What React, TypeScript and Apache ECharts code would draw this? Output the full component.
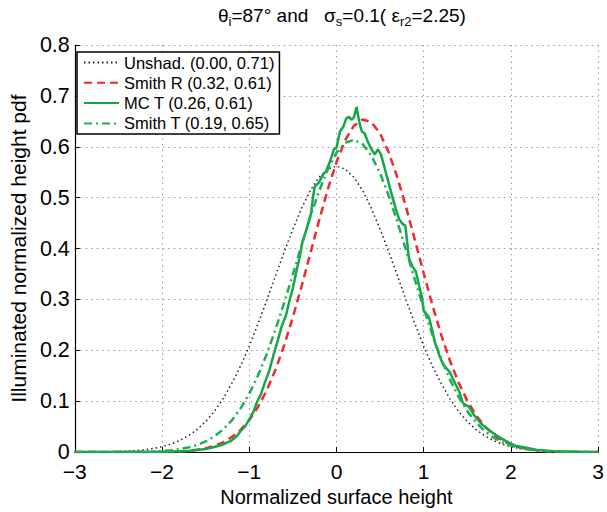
import React, { useEffect, useRef } from "react";
import * as echarts from "echarts";

const xGrid = [
  -3.0, -2.9, -2.8, -2.7, -2.6, -2.5, -2.4, -2.3, -2.2, -2.1,
  -2.0, -1.9, -1.8, -1.7, -1.6, -1.5, -1.4, -1.3, -1.2, -1.1,
  -1.0, -0.9, -0.8, -0.7, -0.6, -0.5, -0.4, -0.3, -0.2, -0.1,
  0.0, 0.1, 0.2, 0.3, 0.4, 0.5, 0.6, 0.7, 0.8, 0.9,
  1.0, 1.1, 1.2, 1.3, 1.4, 1.5, 1.6, 1.7, 1.8, 1.9,
  2.0, 2.1, 2.2, 2.3, 2.4, 2.5, 2.6, 2.7, 2.8, 2.9, 3.0,
];

const unshad = [
  0.0001, 0.0001, 0.0002, 0.0004, 0.0007, 0.0012, 0.0019, 0.003, 0.0046, 0.0071,
  0.0106, 0.0156, 0.0226, 0.032, 0.044, 0.06, 0.08, 0.105, 0.135, 0.169,
  0.208, 0.252, 0.298, 0.346, 0.393, 0.438, 0.479, 0.514, 0.54, 0.556,
  0.562, 0.556, 0.54, 0.514, 0.479, 0.438, 0.393, 0.346, 0.298, 0.252,
  0.208, 0.169, 0.135, 0.105, 0.08, 0.06, 0.044, 0.032, 0.0226, 0.0156,
  0.0106, 0.0071, 0.0046, 0.003, 0.0019, 0.0012, 0.0007, 0.0004, 0.0002, 0.0001, 0.0001,
];

const smithR = [
  0, 0, 0, 0, 0, 0, 0, 0.0001, 0.0001, 0.0002,
  0.0004, 0.0008, 0.0014, 0.0026, 0.0045, 0.0076, 0.0123, 0.0192, 0.0293, 0.0436,
  0.0629, 0.0885, 0.1213, 0.1616, 0.2097, 0.265, 0.3259, 0.3902, 0.4548, 0.516,
  0.5699, 0.6128, 0.6414, 0.6537, 0.6484, 0.6261, 0.5886, 0.5386, 0.4799, 0.4161,
  0.3514, 0.2888, 0.231, 0.1799, 0.1364, 0.1007, 0.0724, 0.0506, 0.0345, 0.0228,
  0.0147, 0.0093, 0.0057, 0.0034, 0.002, 0.0011, 0.0006, 0.0003, 0.0002, 0.0001, 0,
];

const smithT = [
  0, 0, 0, 0, 0, 0.0001, 0.0002, 0.0004, 0.0007, 0.0013,
  0.0021, 0.0035, 0.0057, 0.009, 0.0138, 0.0209, 0.0308, 0.0444, 0.0623, 0.0856,
  0.1148, 0.1504, 0.1924, 0.2404, 0.2933, 0.3494, 0.4066, 0.462, 0.5127, 0.5557,
  0.5882, 0.6079, 0.6137, 0.6051, 0.5826, 0.5478, 0.5031, 0.4512, 0.3952, 0.338,
  0.2823, 0.2304, 0.1835, 0.1428, 0.1085, 0.0805, 0.0584, 0.0413, 0.0286, 0.0193,
  0.0127, 0.0082, 0.0052, 0.0032, 0.0019, 0.0011, 0.0006, 0.0004, 0.0002, 0.0001, 0.0001,
];

const mcX = [
  -3.0, -2.0, -1.7, -1.5, -1.4, -1.3, -1.21, -1.15, -1.1, -1.05,
  -1.0, -0.95, -0.91, -0.87, -0.82, -0.77, -0.72, -0.68, -0.63, -0.58,
  -0.54, -0.5, -0.46, -0.42, -0.39, -0.34, -0.29, -0.27, -0.25, -0.2,
  -0.16, -0.12, -0.07, -0.03, 0.0, 0.04, 0.08, 0.11, 0.14, 0.175,
  0.2, 0.23, 0.26, 0.29, 0.32, 0.36, 0.4, 0.44, 0.475, 0.51,
  0.57, 0.64, 0.68, 0.72, 0.76, 0.79, 0.83, 0.87, 0.91, 0.95,
  0.98, 1.0, 1.06, 1.1, 1.13, 1.18, 1.22, 1.3, 1.36, 1.41,
  1.45, 1.52, 1.58, 1.67, 1.73, 1.79, 1.86, 1.94, 2.05, 2.16,
  2.3, 2.5, 2.8, 3.0,
];

const mcY = [
  0, 0.0005, 0.002, 0.006, 0.01, 0.015, 0.022, 0.03, 0.041, 0.05,
  0.064, 0.08, 0.099, 0.112, 0.137, 0.16, 0.192, 0.215, 0.246, 0.268,
  0.297, 0.322, 0.355, 0.385, 0.413, 0.44, 0.47, 0.5, 0.521, 0.53,
  0.544, 0.552, 0.573, 0.595, 0.598, 0.63, 0.64, 0.655, 0.659, 0.653,
  0.658, 0.678, 0.65, 0.63, 0.627, 0.61, 0.595, 0.585, 0.595, 0.585,
  0.547, 0.502, 0.478, 0.457, 0.448, 0.445, 0.381, 0.365, 0.355, 0.325,
  0.304, 0.278, 0.265, 0.238, 0.214, 0.19, 0.173, 0.157, 0.135, 0.118,
  0.096, 0.089, 0.072, 0.054, 0.046, 0.038, 0.03, 0.022, 0.0125, 0.009,
  0.004, 0.0015, 0.0005, 0,
];

const seriesNames = [
  "Unshad. (0.00, 0.71)",
  "Smith R (0.32, 0.61)",
  "MC T (0.26, 0.61)",
  "Smith T (0.19, 0.65)",
];

const xTickValues = [-3, -2, -1, 0, 1, 2, 3];
const xTickLabels = ["\u22123", "\u22122", "\u22121", "0", "1", "2", "3"];
const yTickValues = [0, 0.1, 0.2, 0.3, 0.4, 0.5, 0.6, 0.7, 0.8];
const yTickLabels = ["0", "0.1", "0.2", "0.3", "0.4", "0.5", "0.6", "0.7", "0.8"];

const FONT = "'Liberation Sans', Arial, Helvetica, sans-serif";

function lookup(values: number[], labels: string[], v: number): string {
  for (let i = 0; i < values.length; i++) {
    if (Math.abs(values[i] - v) < 1e-6) return labels[i];
  }
  return "";
}

export default function App() {
  const ref = useRef<HTMLDivElement>(null);
  useEffect(() => {
    if (!ref.current) return;
    const chart = echarts.init(ref.current, null, { renderer: "svg" });
    const pairs = (ys: number[]) => xGrid.map((x, i) => [x, ys[i]]);
    const mcPairs = mcX.map((x, i) => [x, mcY[i]]);
    const green = "#16a64a";
    chart.setOption({
      animation: false,
      backgroundColor: "#fff",
      title: {
        text: "{t|\u03B8}{s|i}{t|=87\u00B0 and   \u03C3}{s|s}{t|=0.1( \u03B5}{s|r2}{t|=2.25)}",
        left: 213,
        top: 0,
        textStyle: {
          fontWeight: "normal",
          rich: {
            t: { fontSize: 19, fontWeight: "normal", fontFamily: FONT, color: "#000", lineHeight: 20 },
            s: { fontSize: 13, fontWeight: "normal", fontFamily: FONT, color: "#000", lineHeight: 14, padding: [12, 0, 0, 0] },
          },
        },
      },
      legend: {
        orient: "vertical",
        left: 77,
        top: 52,
        itemWidth: 35,
        itemHeight: 14,
        itemGap: 3.3,
        padding: [2, 5, 2, 6],
        borderColor: "#000",
        borderWidth: 1.5,
        borderRadius: 0,
        backgroundColor: "#fff",
        itemStyle: { opacity: 0 },
        textStyle: { fontSize: 16.5, fontFamily: FONT, color: "#000" },
        data: seriesNames,
      },
      grid: { left: 71, right: 2, top: 45, bottom: 51, containLabel: false },
      xAxis: {
        type: "value",
        min: -3,
        max: 3,
        interval: 1,
        name: "Normalized surface height",
        nameLocation: "middle",
        nameGap: 25,
        nameTextStyle: { fontSize: 20, fontFamily: FONT, color: "#000" },
        axisLine: { show: true, onZero: false, lineStyle: { color: "#000", width: 1.2 } },
        axisTick: { show: true, inside: true, length: 5, lineStyle: { color: "#000" } },
        axisLabel: {
          fontSize: 21,
          fontFamily: FONT,
          color: "#000",
          margin: 9,
          formatter: (v: number) => lookup(xTickValues, xTickLabels, v),
        },
        splitLine: { show: true, lineStyle: { color: "#999", type: [1.5, 4], width: 1 } },
      },
      yAxis: {
        type: "value",
        min: 0,
        max: 0.8,
        interval: 0.1,
        name: "Illuminated normalized height pdf",
        nameLocation: "middle",
        nameGap: 42,
        nameTextStyle: { fontSize: 21, fontFamily: FONT, color: "#000" },
        axisLine: { show: true, onZero: false, lineStyle: { color: "#000", width: 1.2 } },
        axisTick: { show: true, inside: true, length: 5, lineStyle: { color: "#000" } },
        axisLabel: {
          fontSize: 21.5,
          fontFamily: FONT,
          color: "#000",
          margin: 5,
          formatter: (v: number) => lookup(yTickValues, yTickLabels, v),
        },
        splitLine: { show: true, lineStyle: { color: "#999", type: [1.5, 4], width: 1 } },
      },
      series: [
        {
          name: seriesNames[0],
          type: "line",
          data: pairs(unshad),
          symbol: "none",
          lineStyle: { color: "#222", width: 1.5, type: [1.5, 3] },
          itemStyle: { color: "#222" },
          z: 2,
        },
        {
          name: seriesNames[1],
          type: "line",
          data: pairs(smithR),
          symbol: "none",
          lineStyle: { color: "#f2282e", width: 2.5, type: [8, 5] },
          itemStyle: { color: "#f2282e" },
          z: 3,
        },
        {
          name: seriesNames[2],
          type: "line",
          data: mcPairs,
          symbol: "none",
          lineStyle: { color: green, width: 2.5, type: "solid" },
          itemStyle: { color: green },
          z: 4,
        },
        {
          name: seriesNames[3],
          type: "line",
          data: pairs(smithT),
          symbol: "none",
          lineStyle: { color: "#22ad55", width: 2.5, type: [8, 4, 2, 4] },
          itemStyle: { color: "#22ad55" },
          z: 5,
        },
      ],
    });
    return () => chart.dispose();
  }, []);
  return (
    <div
      ref={ref}
      style={{ position: "fixed", left: 0, top: 0, width: 607, height: 512, background: "#fff" }}
    />
  );
}
